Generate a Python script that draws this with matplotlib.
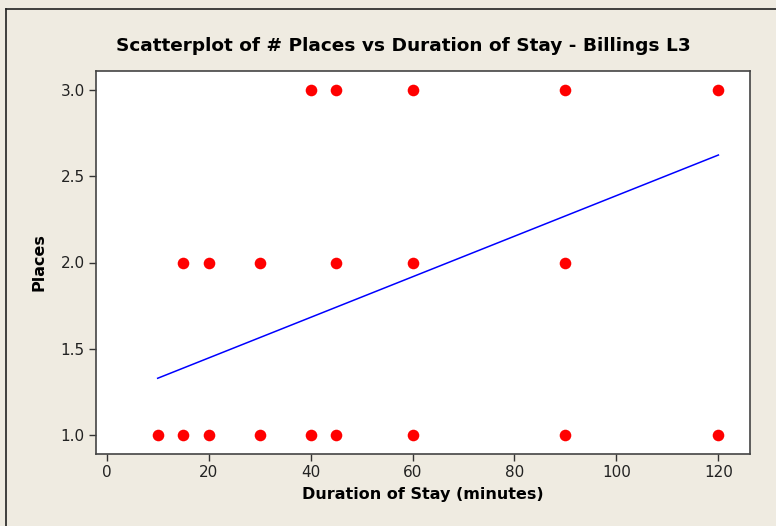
import matplotlib.pyplot as plt
from matplotlib.lines import Line2D

# durations (minutes) and number of places visited
dur_1 = [10, 15, 20, 30, 40, 45, 60, 90, 120]
dur_2 = [15, 20, 30, 45, 60, 90]
dur_3 = [40, 45, 60, 90, 120]
fit_x = [10, 120]
fit_y = [1.329, 2.623]

bg = "#efebe1"
fig = plt.figure(figsize=(7.76, 5.26), dpi=100, facecolor=bg)
ax = fig.add_axes([96 / 776, 1 - 454 / 526, (750 - 96) / 776, (454 - 71) / 526])
ax.set_facecolor("white")

for xs, yv in [(dur_1, 1), (dur_2, 2), (dur_3, 3)]:
    ax.scatter(xs, [yv] * len(xs), s=70, color="#ff0000", zorder=3, linewidths=0)
ax.plot(fit_x, fit_y, color="#0000ff", lw=1.1, zorder=2)

ax.set_xlim(-2.1, 126.2)
ax.set_ylim(0.89, 3.11)
ax.set_xticks([0, 20, 40, 60, 80, 100, 120])
ax.set_yticks([1.0, 1.5, 2.0, 2.5, 3.0])
ax.set_yticklabels(["1.0", "1.5", "2.0", "2.5", "3.0"])
ax.tick_params(direction="out", length=5, width=1, color="#333333",
               labelsize=11, labelcolor="#222222", pad=3)
for sp in ax.spines.values():
    sp.set_color("#444444")
    sp.set_linewidth(1.2)

ax.set_xlabel("Duration of Stay (minutes)", fontsize=11.5, fontweight="bold", labelpad=5)
ax.set_ylabel("Places", fontsize=11.5, fontweight="bold", labelpad=10)
fig.text(403 / 776, 1 - 46 / 526, "Scatterplot of # Places vs Duration of Stay - Billings L3",
         ha="center", va="center", fontsize=13.3, fontweight="bold")

# frame around the figure edge
fig.add_artist(Line2D([6 / 776, 6 / 776], [0, 1 - 9 / 526], transform=fig.transFigure,
                      color="#222222", lw=1.2))
fig.add_artist(Line2D([6 / 776, 1], [1 - 9 / 526, 1 - 9 / 526], transform=fig.transFigure,
                      color="#222222", lw=1.2))

fig.savefig("out.png", dpi=100, facecolor=bg)
